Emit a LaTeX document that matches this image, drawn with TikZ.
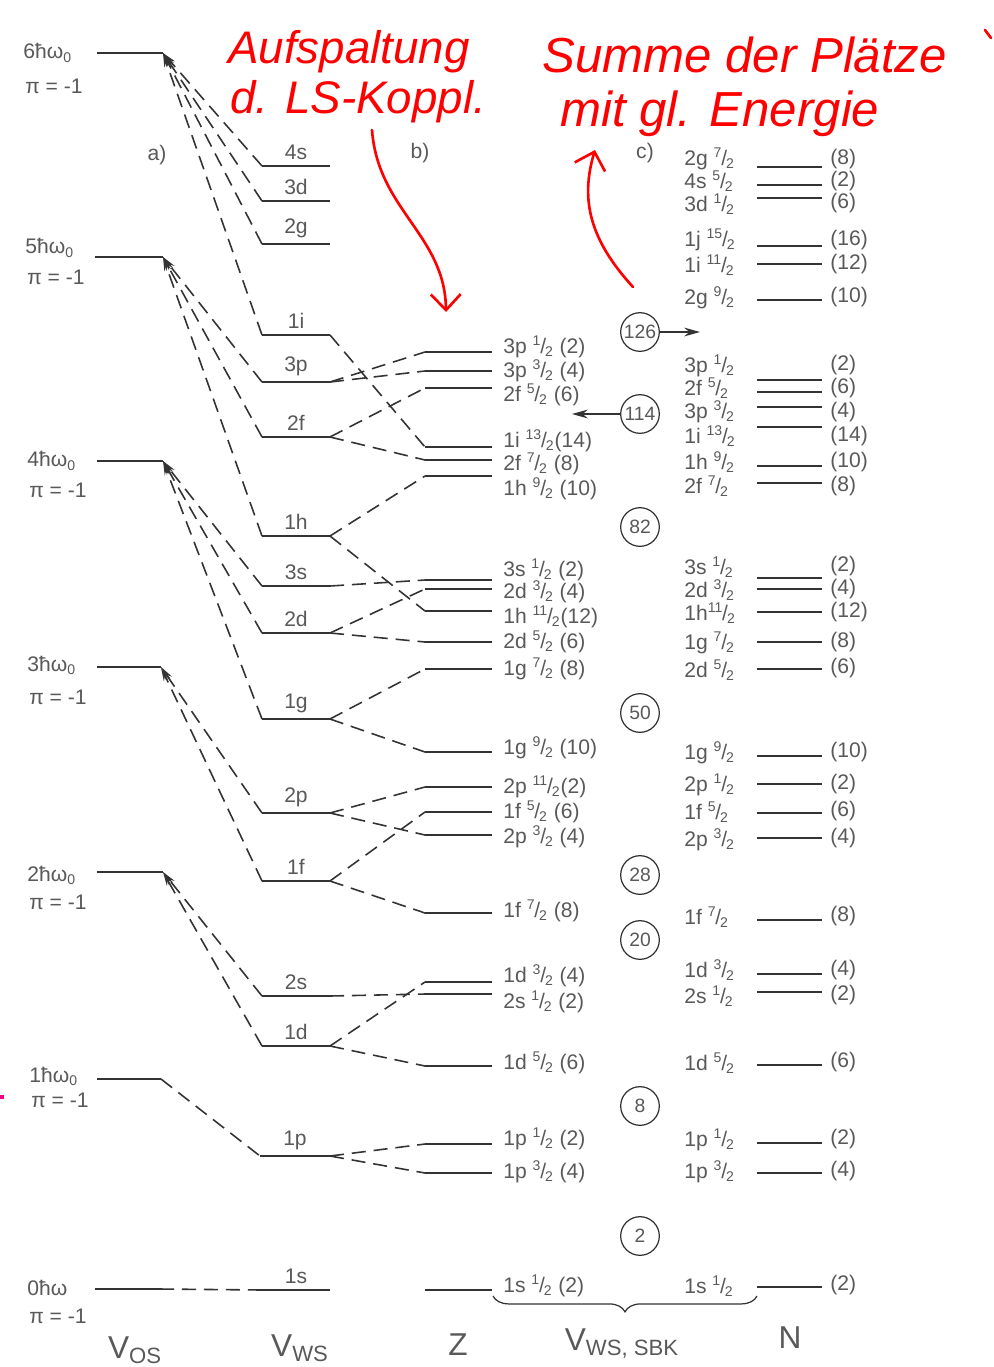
\documentclass[tikz,border=0pt]{standalone}
\usepackage{fontspec}
\setmainfont{Liberation Sans}
\usetikzlibrary{arrows.meta,decorations.pathreplacing}
\definecolor{ink}{gray}{0.35}
\definecolor{wire}{gray}{0.2}
\newcommand{\jval}[1]{\textsuperscript{#1}\kern-0.05em/\kern-0.05em\textsubscript{2}}
\tikzset{
  shell/.style={draw=wire, line width=1.2pt},
  conn/.style={draw=wire, line width=0.9pt, dash pattern=on 8pt off 4.5pt},
  tip/.style={-{Stealth[length=8pt,width=4pt]}},
  lbl/.style={text=ink, font=\fontsize{12}{12}\selectfont, inner sep=0pt, anchor=west},
  axis/.style={text=ink, font=\fontsize{18}{18}\selectfont, inner sep=0pt},
  magic/.style={draw=wire, circle, line width=0.7pt, minimum size=22pt, inner sep=0pt,
    text=ink, font=\fontsize{11}{11}\selectfont},
  hand/.style={red, line width=1.5pt, line cap=round},
  handtxt/.style={text=red, font=\itshape\fontsize{26}{26}\selectfont, inner sep=0pt, anchor=base west},
}

\begin{document}
\begin{tikzpicture}[x=0.02cm, y=-0.02cm]
\useasboundingbox (0,0) rectangle (994,1367);

% a) oscillator shells V_OS
\draw[shell] (97,53) -- (163,53) coordinate (os6);
\draw[shell] (95,257) -- (163,257) coordinate (os5);
\draw[shell] (97,461) -- (163,461) coordinate (os4);
\draw[shell] (97,667) -- (161,667) coordinate (os3);
\draw[shell] (97,872) -- (163,872) coordinate (os2);
\draw[shell] (97,1079) -- (161,1079) coordinate (os1);
\draw[shell] (95,1289) -- (160,1289) coordinate (os0);
\node[lbl] (h6) at (23,53) {6ħω\textsubscript{0}};   \node[lbl] (p6) at (25,86) {π = -1};
\node[lbl] (h5) at (25,248) {5ħω\textsubscript{0}};  \node[lbl] (p5) at (27,277) {π = -1};
\node[lbl] (h4) at (27,461) {4ħω\textsubscript{0}};  \node[lbl] (p4) at (29,490) {π = -1};
\node[lbl] (h3) at (27,665) {3ħω\textsubscript{0}};  \node[lbl] (p3) at (29,697) {π = -1};
\node[lbl] (h2) at (27,875) {2ħω\textsubscript{0}};  \node[lbl] (p2) at (29,902) {π = -1};
\node[lbl] (h1) at (29,1076) {1ħω\textsubscript{0}}; \node[lbl] (p1) at (31,1100) {π = -1};
\node[lbl] (h0) at (27,1288) {0ħω};                  \node[lbl] (p0) at (29,1316) {π = -1};

% b) Woods-Saxon levels V_WS
\draw[shell] (262,166) coordinate (w4sL) -- node[lbl, anchor=south, above=3pt] {4s} (330,166) coordinate (w4sR);
\draw[shell] (262,201) coordinate (w3dL) -- node[lbl, anchor=south, above=3pt] {3d} (330,201) coordinate (w3dR);
\draw[shell] (262,244) coordinate (w2gL) -- node[lbl, anchor=south, above=3pt] {2g} (330,244) coordinate (w2gR);
\draw[shell] (262,335) coordinate (w1iL) -- node[lbl, anchor=south, above=3pt] {1i} (330,335) coordinate (w1iR);
\draw[shell] (262,382) coordinate (w3pL) -- node[lbl, anchor=south, above=3pt] {3p} (330,382) coordinate (w3pR);
\draw[shell] (262,437) coordinate (w2fL) -- node[lbl, anchor=south, above=3pt] {2f} (330,437) coordinate (w2fR);
\draw[shell] (262,536) coordinate (w1hL) -- node[lbl, anchor=south, above=3pt] {1h} (330,536) coordinate (w1hR);
\draw[shell] (262,586) coordinate (w3sL) -- node[lbl, anchor=south, above=3pt] {3s} (330,586) coordinate (w3sR);
\draw[shell] (262,633) coordinate (w2dL) -- node[lbl, anchor=south, above=3pt] {2d} (330,633) coordinate (w2dR);
\draw[shell] (262,719) coordinate (w1gL) -- node[lbl, anchor=south, above=3pt] {1g} (330,719) coordinate (w1gR);
\draw[shell] (262,813) coordinate (w2pL) -- node[lbl, anchor=south, above=3pt] {2p} (330,813) coordinate (w2pR);
\draw[shell] (262,881) coordinate (w1fL) -- node[lbl, anchor=south, above=3pt] {1f} (330,881) coordinate (w1fR);
\draw[shell] (262,996) coordinate (w2sL) -- node[lbl, anchor=south, above=3pt] {2s} (330,996) coordinate (w2sR);
\draw[shell] (262,1046) coordinate (w1dL) -- node[lbl, anchor=south, above=3pt] {1d} (330,1046) coordinate (w1dR);
\draw[shell] (260,1156) coordinate (w1pL) -- node[lbl, anchor=south, above=3pt] {1p} (330,1156) coordinate (w1pR);
\draw[shell] (262,1290) coordinate (w1sL) -- node[lbl, anchor=south, above=3pt] {1s} (330,1290) coordinate (w1sR);

% dashed links V_OS -> V_WS
\draw[conn, tip] (w4sL) -- (os6);
\draw[conn, tip] (w3dL) -- (os6);
\draw[conn, tip] (w2gL) -- (os6);
\draw[conn, tip] (w1iL) -- (os6);
\draw[conn, tip] (w3pL) -- (os5);
\draw[conn, tip] (w2fL) -- (os5);
\draw[conn, tip] (w1hL) -- (os5);
\draw[conn, tip] (w3sL) -- (os4);
\draw[conn, tip] (w2dL) -- (os4);
\draw[conn, tip] (w1gL) -- (os4);
\draw[conn, tip] (w2pL) -- (os3);
\draw[conn, tip] (w1fL) -- (os3);
\draw[conn, tip] (w2sL) -- (os2);
\draw[conn, tip] (w1dL) -- (os2);
\draw[conn] (os1) -- (w1pL);
\draw[conn] (os0) -- (w1sL);

% spin-orbit levels Z
\draw[shell] (425,352) coordinate (z3p1L) -- (492,352);   \node[lbl] (t3p1) at (503,347) {3p \jval{1} (2)};
\draw[shell] (425,371) coordinate (z3p3L) -- (492,371);   \node[lbl] (t3p3) at (503,371) {3p \jval{3} (4)};
\draw[shell] (425,388) coordinate (z2f5L) -- (492,388);   \node[lbl] (t2f5) at (503,395) {2f \jval{5} (6)};
\draw[shell] (425,447) coordinate (z1i13L) -- (492,447);  \node[lbl] (t1i13) at (503,441) {1i \jval{13}(14)};
\draw[shell] (425,460) coordinate (z2f7L) -- (492,460);   \node[lbl] (t2f7) at (503,464) {2f \jval{7} (8)};
\draw[shell] (425,476) coordinate (z1h9L) -- (492,476);   \node[lbl] (t1h9) at (503,489) {1h \jval{9} (10)};
\draw[shell] (425,580) coordinate (z3s1L) -- (492,580);   \node[lbl] (t3s1) at (503,570) {3s \jval{1} (2)};
\draw[shell] (425,589) coordinate (z2d3L) -- (492,589);   \node[lbl] (t2d3) at (503,592) {2d \jval{3} (4)};
\draw[shell] (425,611) coordinate (z1h11L) -- (492,611);  \node[lbl] (t1h11) at (503,617) {1h \jval{11}(12)};
\draw[shell] (425,642) coordinate (z2d5L) -- (492,642);   \node[lbl] (t2d5) at (503,642) {2d \jval{5} (6)};
\draw[shell] (425,669) coordinate (z1g7L) -- (492,669);   \node[lbl] (t1g7) at (503,669) {1g \jval{7} (8)};
\draw[shell] (425,752) coordinate (z1g9L) -- (492,752);   \node[lbl] (t1g9) at (503,748) {1g \jval{9} (10)};
\draw[shell] (425,787) coordinate (z2p1L) -- (492,787);   \node[lbl] (t2p1) at (503,787) {2p \jval{11}(2)};
\draw[shell] (425,812) coordinate (z1f5L) -- (492,812);   \node[lbl] (t1f5) at (503,812) {1f \jval{5} (6)};
\draw[shell] (425,835) coordinate (z2p3L) -- (492,835);   \node[lbl] (t2p3) at (503,837) {2p \jval{3} (4)};
\draw[shell] (425,913) coordinate (z1f7L) -- (492,913);   \node[lbl] (t1f7) at (503,911) {1f \jval{7} (8)};
\draw[shell] (425,982) coordinate (z1d3L) -- (492,982);   \node[lbl] (t1d3) at (503,976) {1d \jval{3} (4)};
\draw[shell] (425,994) coordinate (z2s1L) -- (492,994);   \node[lbl] (t2s1) at (503,1002) {2s \jval{1} (2)};
\draw[shell] (425,1066) coordinate (z1d5L) -- (492,1066); \node[lbl] (t1d5) at (503,1063) {1d \jval{5} (6)};
\draw[shell] (425,1144) coordinate (z1p1L) -- (492,1144); \node[lbl] (t1p1) at (503,1139) {1p \jval{1} (2)};
\draw[shell] (425,1173) coordinate (z1p3L) -- (492,1173); \node[lbl] (t1p3) at (503,1172) {1p \jval{3} (4)};
\draw[shell] (425,1290) coordinate (z1s1L) -- (492,1290); \node[lbl] (t1s1) at (503,1286) {1s \jval{1} (2)};

% dashed links V_WS -> Z
\draw[conn] (w1iR) -- (z1i13L);
\draw[conn] (w3pR) -- (z3p1L);  \draw[conn] (w3pR) -- (z3p3L);
\draw[conn] (w2fR) -- (z2f5L);  \draw[conn] (w2fR) -- (z2f7L);
\draw[conn] (w1hR) -- (z1h9L);  \draw[conn] (w1hR) -- (z1h11L);
\draw[conn] (w3sR) -- (z3s1L);
\draw[conn] (w2dR) -- (z2d3L);  \draw[conn] (w2dR) -- (z2d5L);
\draw[conn] (w1gR) -- (z1g7L);  \draw[conn] (w1gR) -- (z1g9L);
\draw[conn] (w2pR) -- (z2p1L);  \draw[conn] (w2pR) -- (z2p3L);
\draw[conn] (w1fR) -- (z1f5L);  \draw[conn] (w1fR) -- (z1f7L);
\draw[conn] (w2sR) -- (z2s1L);
\draw[conn] (w1dR) -- (z1d3L);  \draw[conn] (w1dR) -- (z1d5L);
\draw[conn] (w1pR) -- (z1p1L);  \draw[conn] (w1pR) -- (z1p3L);

% magic numbers
\node[magic] (m126) at (640,332) {126};
\node[magic] (m114) at (640,414) {114};
\node[magic] (m82) at (640,527) {82};
\node[magic] (m50) at (640,713) {50};
\node[magic] (m28) at (640,875) {28};
\node[magic] (m20) at (640,940) {20};
\node[magic] (m8) at (640,1106) {8};
\node[magic] (m2) at (640,1236) {2};
\coordinate (e126) at (700,332);
\coordinate (e114) at (572,414);
\draw[wire, line width=0.7pt, -{Stealth[length=9pt,width=5pt]}] (m126) -- (e126);
\draw[wire, line width=0.7pt, -{Stealth[length=9pt,width=5pt]}] (m114) -- (e114);

% c) levels with N
\draw[shell] (757,167) -- (822,167);   \node[lbl] (c2g7) at (684,159) {2g \jval{7}};    \node[lbl] (n2g7) at (830,159) {(8)};
\draw[shell] (757,185) -- (822,185);   \node[lbl] (c4s5) at (684,181) {4s \jval{5}};    \node[lbl] (n4s5) at (830,181) {(2)};
\draw[shell] (757,198) -- (822,198);   \node[lbl] (c3d1) at (684,204) {3d \jval{1}};    \node[lbl] (n3d1) at (830,203) {(6)};
\draw[shell] (757,246) -- (822,246);   \node[lbl] (c1j15) at (684,240) {1j \jval{15}};  \node[lbl] (n1j15) at (830,240) {(16)};
\draw[shell] (757,264) -- (822,264);   \node[lbl] (c1i11) at (684,265) {1i \jval{11}};  \node[lbl] (n1i11) at (830,264) {(12)};
\draw[shell] (757,300) -- (822,300);   \node[lbl] (c2g9) at (684,298) {2g \jval{9}};    \node[lbl] (n2g9) at (830,297) {(10)};
\draw[shell] (757,380) -- (822,380);   \node[lbl] (c3p1) at (684,366) {3p \jval{1}};    \node[lbl] (n3p1) at (830,365) {(2)};
\draw[shell] (757,392) -- (822,392);   \node[lbl] (c2f5) at (684,388) {2f \jval{5}};    \node[lbl] (n2f5) at (830,388) {(6)};
\draw[shell] (757,407) -- (822,407);   \node[lbl] (c3p3) at (684,412) {3p \jval{3}};    \node[lbl] (n3p3) at (830,412) {(4)};
\draw[shell] (757,427) -- (822,427);   \node[lbl] (c1i13) at (684,436) {1i \jval{13}};  \node[lbl] (n1i13) at (830,436) {(14)};
\draw[shell] (757,466) -- (822,466);   \node[lbl] (c1h9) at (684,462) {1h \jval{9}};    \node[lbl] (n1h9) at (830,462) {(10)};
\draw[shell] (757,483) -- (822,483);   \node[lbl] (c2f7) at (684,486) {2f \jval{7}};    \node[lbl] (n2f7) at (830,486) {(8)};
\draw[shell] (757,578) -- (822,578);   \node[lbl] (c3s1) at (684,567) {3s \jval{1}};    \node[lbl] (n3s1) at (830,566) {(2)};
\draw[shell] (757,589) -- (822,589);   \node[lbl] (c2d3) at (684,590) {2d \jval{3}};    \node[lbl] (n2d3) at (830,589) {(4)};
\draw[shell] (757,612) -- (822,612);   \node[lbl] (c1h11) at (684,613) {1h\jval{11}};   \node[lbl] (n1h11) at (830,612) {(12)};
\draw[shell] (757,642) -- (822,642);   \node[lbl] (c1g7) at (684,643) {1g \jval{7}};    \node[lbl] (n1g7) at (830,642) {(8)};
\draw[shell] (757,669) -- (822,669);   \node[lbl] (c2d5) at (684,670) {2d \jval{5}};    \node[lbl] (n2d5) at (830,668) {(6)};
\draw[shell] (757,756) -- (822,756);   \node[lbl] (c1g9) at (684,753) {1g \jval{9}};    \node[lbl] (n1g9) at (830,752) {(10)};
\draw[shell] (757,784) -- (822,784);   \node[lbl] (c2p1) at (684,785) {2p \jval{1}};    \node[lbl] (n2p1) at (830,784) {(2)};
\draw[shell] (757,813) -- (822,813);   \node[lbl] (c1f5) at (684,812) {1f \jval{5}};    \node[lbl] (n1f5) at (830,811) {(6)};
\draw[shell] (757,838) -- (822,838);   \node[lbl] (c2p3) at (684,840) {2p \jval{3}};    \node[lbl] (n2p3) at (830,838) {(4)};
\draw[shell] (757,920) -- (822,920);   \node[lbl] (c1f7) at (684,917) {1f \jval{7}};    \node[lbl] (n1f7) at (830,916) {(8)};
\draw[shell] (757,974) -- (822,974);   \node[lbl] (c1d3) at (684,970) {1d \jval{3}};    \node[lbl] (n1d3) at (830,970) {(4)};
\draw[shell] (757,992) -- (822,992);   \node[lbl] (c2s1) at (684,996) {2s \jval{1}};    \node[lbl] (n2s1) at (830,995) {(2)};
\draw[shell] (757,1065) -- (822,1065); \node[lbl] (c1d5) at (684,1063) {1d \jval{5}};   \node[lbl] (n1d5) at (830,1062) {(6)};
\draw[shell] (757,1143) -- (822,1143); \node[lbl] (c1p1) at (684,1140) {1p \jval{1}};   \node[lbl] (n1p1) at (830,1139) {(2)};
\draw[shell] (757,1173) -- (822,1173); \node[lbl] (c1p3) at (684,1172) {1p \jval{3}};   \node[lbl] (n1p3) at (830,1171) {(4)};
\draw[shell] (757,1287) -- (822,1287); \node[lbl] (c1s1) at (684,1286) {1s \jval{1}};   \node[lbl] (n1s1) at (830,1285) {(2)};

% part labels and axis names
\node[lbl, anchor=center] (pa) at (157,155) {a)};
\node[lbl, anchor=center] (pb) at (420,153) {b)};
\node[lbl, anchor=center] (pc) at (645,153) {c)};
\draw[wire, line width=0.7pt, decorate, decoration={brace, mirror, amplitude=9pt}] (493,1296) -- (757,1296);
\node[axis] (vos) at (135,1350) {V\textsubscript{OS}};
\node[axis] (vws) at (300,1348) {V\textsubscript{WS}};
\node[axis] (vz) at (458,1345) {Z};
\node[axis] (vsbk) at (622,1344) {V\textsubscript{WS, SBK}};
\node[axis] (vn) at (790,1338) {N};

% handwritten notes
\node[handtxt] (note1) at (228,63) {Aufspaltung};
\node[handtxt] (note2) at (230,113) {d. LS-Koppl.};
\node[handtxt, font=\itshape\fontsize{28}{28}\selectfont] (note3) at (542,72) {Summe der Plätze};
\node[handtxt, font=\itshape\fontsize{28}{28}\selectfont] (note4) at (560,126) {mit gl. Energie};
\coordinate (r1a) at (372,130);
\coordinate (r1b) at (446,312);
\coordinate (r2a) at (633,287);
\coordinate (r2b) at (595,150);
\draw[hand, -{Straight Barb[length=9pt,width=17pt]}] (r1a) .. controls (378,210) and (445,235) .. (r1b);
\draw[hand, -{Straight Barb[length=9pt,width=18pt]}] (r2a) .. controls (590,240) and (580,200) .. (r2b);
\draw[hand] (985,30) -- (991,38);
\draw[magenta, line width=2pt] (0,1097) -- (4,1097);
\end{tikzpicture}
\end{document}
